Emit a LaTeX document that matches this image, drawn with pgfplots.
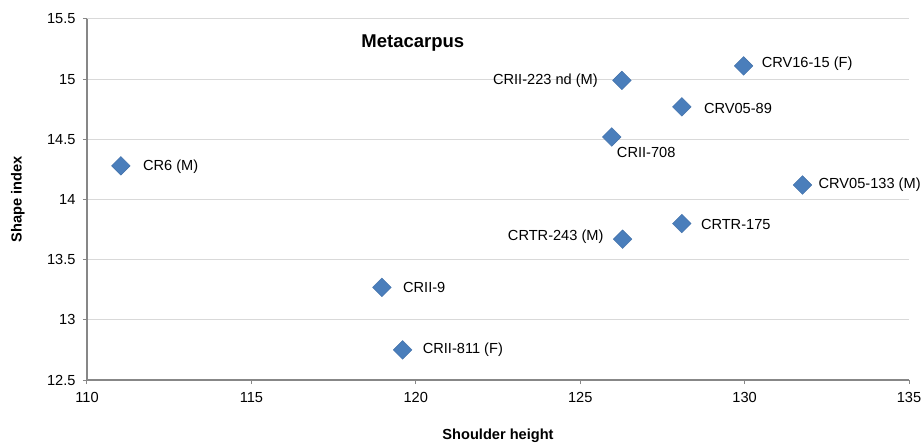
\documentclass[border=0pt]{standalone}
\usepackage{pgfplots}
\usepackage{pgfplotstable}
\usepackage{fontspec}
\setmainfont{Liberation Sans}
\pgfplotsset{compat=1.18}

\definecolor{markblue}{HTML}{4A7EBB}
\definecolor{axisgray}{HTML}{878787}
\definecolor{gridgray}{HTML}{D9D9D9}

% labels to the right of the point: x, y, label, label shift
\pgfplotstableread[col sep=comma]{
x,y,label,dx,dy
111.03,14.28,CR6 (M),22,-1
125.96,14.52,CRII-708,5,-16
128.09,14.77,CRV05-89,22,-2
129.97,15.11,CRV16-15 (F),18,2
131.76,14.12,CRV05-133 (M),16,0
128.09,13.80,CRTR-175,19,-1
118.97,13.27,CRII-9,21,0
119.60,12.75,CRII-811 (F),20,0
}\rightlab

% labels to the left of the point
\pgfplotstableread[col sep=comma]{
x,y,label,dx,dy
126.27,14.99,CRII-223 nd (M),-24,0
126.29,13.67,CRTR-243 (M),-19,2
}\leftlab

\pgfplotsset{
  diam/.style={
    only marks,
    mark=square*,
    mark size=6.6bp,
    mark options={rotate=45, fill=markblue, draw=markblue!90!black, line width=0.4bp},
    point meta=explicit symbolic,
    visualization depends on={\thisrow{dx}\as\mydx},
    visualization depends on={\thisrow{dy}\as\mydy},
    nodes near coords,
    nodes near coords style={anchor=#1, inner sep=0pt,
        xshift=\mydx bp, yshift=\mydy bp, text=black},
  },
}

\begin{document}
\begin{tikzpicture}
\begin{axis}[
    scale only axis,
    width=822bp, height=361bp,
    xmin=110, xmax=135,
    ymin=12.5, ymax=15.5,
    xtick={110,115,...,135},
    ytick={12.5,13,...,15.5},
    axis x line=bottom, axis y line=left,
    axis line style={-, axisgray, line width=1.4bp},
    tick style={axisgray, line width=1bp},
    tick align=outside,
    major tick length=4bp,
    ymajorgrids,
    major grid style={gridgray, line width=1bp},
    clip=false,
    font=\fontsize{14.6bp}{17bp}\selectfont,
    /pgf/number format/assume math mode=true,
    xticklabel style={yshift=-5bp},
    yticklabel style={xshift=-4bp},
    xlabel={\bfseries Shoulder height},
    ylabel={\bfseries Shape index},
    xlabel style={at={(axis description cs:0.5,-0.155)}, anchor=center,
        font=\fontsize{14.6bp}{17bp}\selectfont},
    ylabel style={at={(axis description cs:-0.084,0.5)}, anchor=center,
        font=\fontsize{14.6bp}{17bp}\selectfont},
]
\addplot[diam=west] table[x=x, y=y, meta=label] {\rightlab};
\addplot[diam=east] table[x=x, y=y, meta=label] {\leftlab};

\node[font=\bfseries\fontsize{18.5bp}{22bp}\selectfont] at (axis cs:119.91,15.3) {Metacarpus};
\end{axis}
\pgfresetboundingbox
\path[use as bounding box] (current axis.south west) ++(-87bp,-64bp)
    rectangle ([xshift=13bp,yshift=19bp]current axis.north east);
\end{tikzpicture}
\end{document}
